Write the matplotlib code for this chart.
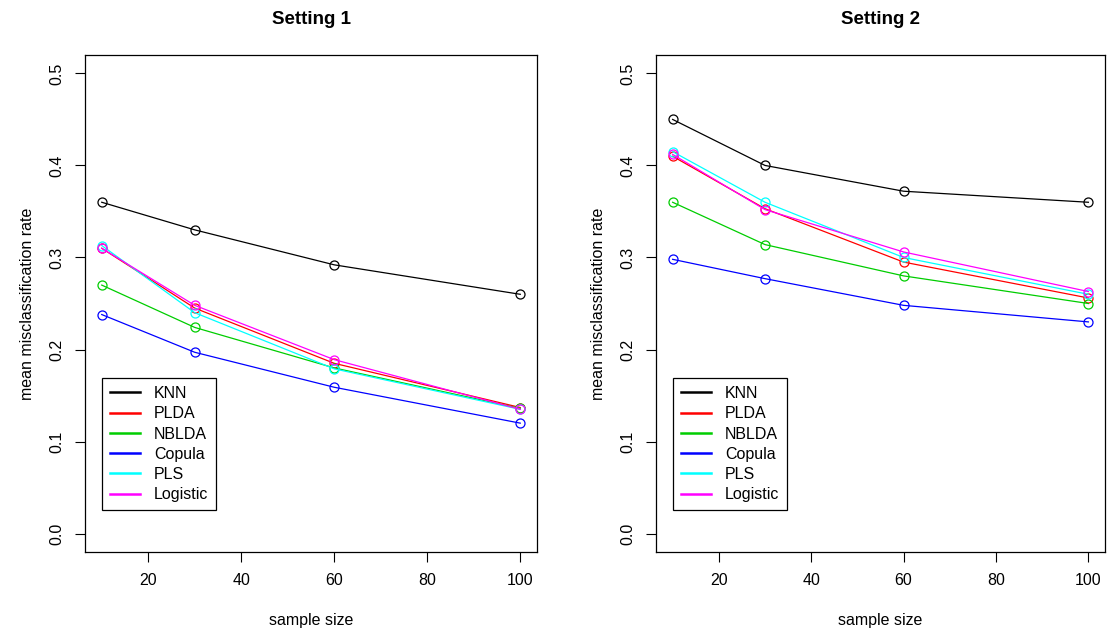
import matplotlib
matplotlib.use("Agg")
import matplotlib.pyplot as plt

plt.rcParams['font.family'] = ['Liberation Sans', 'DejaVu Sans']

sample_size = [10, 30, 60, 100]
methods = ["KNN", "PLDA", "NBLDA", "Copula", "PLS", "Logistic"]
colors = ["#000000", "#FF0000", "#00CD00", "#0000FF", "#00FFFF", "#FF00FF"]

# Setting 1
s1_knn = [0.360, 0.330, 0.292, 0.260]
s1_plda = [0.310, 0.245, 0.185, 0.137]
s1_nblda = [0.270, 0.224, 0.180, 0.136]
s1_copula = [0.238, 0.197, 0.159, 0.120]
s1_pls = [0.313, 0.240, 0.179, 0.135]
s1_logistic = [0.310, 0.248, 0.189, 0.135]

# Setting 2
s2_knn = [0.450, 0.400, 0.372, 0.360]
s2_plda = [0.410, 0.353, 0.295, 0.256]
s2_nblda = [0.360, 0.314, 0.280, 0.250]
s2_copula = [0.298, 0.277, 0.248, 0.230]
s2_pls = [0.415, 0.360, 0.300, 0.260]
s2_logistic = [0.412, 0.352, 0.306, 0.263]

setting1 = [s1_knn, s1_plda, s1_nblda, s1_copula, s1_pls, s1_logistic]
setting2 = [s2_knn, s2_plda, s2_nblda, s2_copula, s2_pls, s2_logistic]
titles = ["Setting 1", "Setting 2"]
y_ticks = [0.0, 0.1, 0.2, 0.3, 0.4, 0.5]
x_ticks = [20, 40, 60, 80, 100]

W, H = 1107, 632
fig = plt.figure(figsize=(W / 100, H / 100), dpi=100)

FS = 11.5
boxes = [(85, 55, 537, 552), (656, 55, 1105, 552)]

for (x0, y0, x1, y1), title, data in zip(boxes, titles, [setting1, setting2]):
    ax = fig.add_axes([x0 / W, 1 - y1 / H, (x1 - x0) / W, (y1 - y0) / H])
    for name, col, vals in zip(methods, colors, data):
        ax.plot(sample_size, vals, color=col, lw=0.9, marker='o', ms=6.5,
                mfc='none', mec=col, mew=0.9, label=name)
    ax.set_xlim(6.4, 103.6)
    ax.set_ylim(-0.02, 0.52)
    ax.set_xticks(x_ticks)
    ax.set_xticklabels([str(t) for t in x_ticks])
    ax.set_yticks(y_ticks)
    ax.set_yticklabels([f"{t:.1f}" for t in y_ticks], rotation=90, va='center')
    ax.tick_params(direction='out', length=7, width=0.8, labelsize=FS, pad=8)
    for sp in ax.spines.values():
        sp.set_linewidth(0.9)
    ax.set_xlabel("sample size", fontsize=FS, labelpad=18)
    ax.set_ylabel("mean misclassification rate", fontsize=FS, labelpad=10)
    ax.set_title(title, fontsize=13.5, fontweight='bold', pad=22)
    leg = ax.legend(loc='upper left', bbox_to_anchor=(17 / (x1 - x0), (y1 - 378) / (y1 - y0)),
                    fontsize=FS, frameon=True, fancybox=False, edgecolor='black',
                    framealpha=1, borderaxespad=0, handlelength=1.9, handletextpad=0.85,
                    labelspacing=0.33, borderpad=0.5)
    leg.get_frame().set_linewidth(0.9)
    for h in leg.legend_handles:
        h.set_marker('')
        h.set_linewidth(1.8)

fig.savefig("out.png", dpi=100)
